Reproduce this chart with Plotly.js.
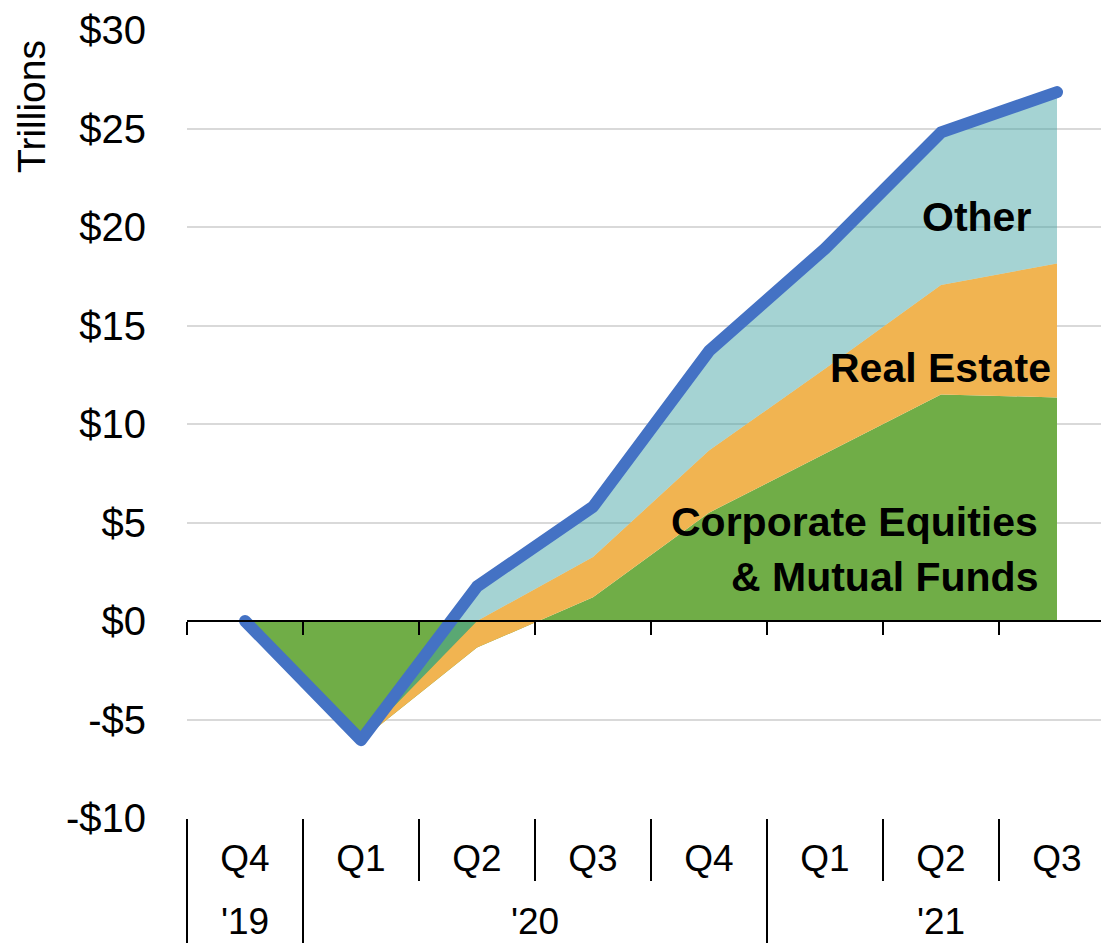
<!DOCTYPE html>
<html>
<head>
<meta charset="utf-8">
<script src="https://cdn.plot.ly/plotly-3.0.1.min.js"></script>
<style>html,body{margin:0;padding:0;background:#fff;}#chart{width:1101px;height:943px;}</style>
</head>
<body>
<div id="chart"></div>
<script>
// ---- data ----
var quarters = ['Q4', 'Q1', 'Q2', 'Q3', 'Q4', 'Q1', 'Q2', 'Q3'];
var years = ["'19", "'20", "'20", "'20", "'20", "'21", "'21", "'21"];
var equities = [0, -6.05, -1.35, 1.2, 5.5, 8.5, 11.5, 11.35];
var realEstate = [0, 0, 1.35, 2.05, 3.15, 4.3, 5.55, 6.8];
var other = [0, 0, 1.75, 2.55, 5.05, 6.1, 7.75, 8.7];
var total = [0, -6.05, 1.75, 5.8, 13.7, 18.9, 24.8, 26.85];
var yTickVals = [-10, -5, 0, 5, 10, 15, 20, 25, 30];
var yTickText = ['-$10', '-$5', '$0', '$5', '$10', '$15', '$20', '$25', '$30'];
var seriesLabels = ['Corporate Equities<br>& Mutual Funds', 'Real Estate', 'Other'];

// ---- derived positions (category indices) ----
var idx = quarters.map(function (q, i) { return i; });
var boundaries = idx.map(function (i) { return i - 0.5; }).concat([quarters.length - 0.5]);
var groups = [];
years.forEach(function (y, i) {
  var g = groups[groups.length - 1];
  if (!g || g.label !== y) groups.push({label: y, start: i, end: i});
  else g.end = i;
});
var groupCenters = groups.map(function (g) { return (g.start + g.end) / 2; });
var groupLabels = groups.map(function (g) { return g.label; });
var groupBounds = groups.map(function (g) { return g.start - 0.5; }).concat([quarters.length - 0.5]);

var FONT = 'Liberation Sans, Arial, sans-serif';

var traces = [
  {x: idx, y: equities, name: 'Corporate Equities & Mutual Funds', type: 'scatter', mode: 'lines',
   stackgroup: 'a', line: {width: 0, color: '#70AD47'}, fillcolor: '#70AD47'},
  {x: idx, y: realEstate, name: 'Real Estate', type: 'scatter', mode: 'lines',
   stackgroup: 'a', line: {width: 0, color: '#F1B451'}, fillcolor: '#F1B451'},
  {x: idx, y: other, name: 'Other', type: 'scatter', mode: 'lines',
   stackgroup: 'a', line: {width: 0, color: 'rgba(66,163,163,0.48)'}, fillcolor: 'rgba(66,163,163,0.48)'},
  {x: idx, y: total, name: 'Total', type: 'scatter', mode: 'lines',
   line: {width: 12, color: '#4472C4'}}
];
// empty helper traces so that the overlaid axes (zero line, separators, year labels) get drawn
['x2', 'x3', 'x4', 'x5'].forEach(function (a) {
  traces.push({x: groupCenters, y: groupCenters.map(function () { return null; }), xaxis: a, yaxis: 'y',
    type: 'scatter', mode: 'lines', hoverinfo: 'skip', showlegend: false, line: {width: 0}});
});

var xr = [-0.5, -0.5 + 914 / 116];
var baseX = {range: xr, autorange: false, showgrid: false, zeroline: false, showline: false};
function ax(extra) { return Object.assign({}, baseX, extra); }

var corpLines = seriesLabels[0].split('<br>');

var layout = {
  width: 1101, height: 943,
  margin: {l: 187, r: 0, t: 30, b: 125},
  paper_bgcolor: '#fff', plot_bgcolor: '#fff',
  showlegend: false,
  font: {family: FONT, size: 40, color: '#000'},
  // quarter labels
  xaxis: ax({tickmode: 'array', tickvals: idx, ticktext: quarters, ticks: '',
    ticklabelstandoff: 15, tickfont: {family: FONT, size: 37, color: '#000'}}),
  // zero line with category ticks
  xaxis2: ax({overlaying: 'x', anchor: 'free', position: 0.25, showticklabels: false,
    showline: true, linecolor: '#000', linewidth: 2,
    tickmode: 'array', tickvals: boundaries, ticks: 'outside', ticklen: 13, tickwidth: 2, tickcolor: '#000',
    layer: 'above traces'}),
  // minor separators under the plot
  xaxis3: ax({overlaying: 'x', anchor: 'y', showticklabels: false,
    tickmode: 'array', tickvals: boundaries, ticks: 'outside', ticklen: 62, tickwidth: 2, tickcolor: '#000'}),
  // major (year) separators
  xaxis4: ax({overlaying: 'x', anchor: 'y', showticklabels: false,
    tickmode: 'array', tickvals: groupBounds, ticks: 'outside', ticklen: 130, tickwidth: 2, tickcolor: '#000'}),
  // year labels
  xaxis5: ax({overlaying: 'x', anchor: 'y', tickmode: 'array', tickvals: groupCenters, ticktext: groupLabels,
    ticks: '', ticklabelstandoff: 78, tickfont: {family: FONT, size: 37, color: '#000'}}),
  yaxis: {
    range: [-10, 30], tickmode: 'array', tickvals: yTickVals, ticktext: yTickText,
    showgrid: true, gridcolor: '#D9D9D9', gridwidth: 2,
    zeroline: false, showline: false, ticks: '',
    ticklabelstandoff: 40,
    tickfont: {family: FONT, size: 40, color: '#000'}
  },
  annotations: [
    {xref: 'paper', yref: 'paper', x: -0.1696, y: 0.9036, xanchor: 'center', yanchor: 'middle',
     text: 'Trillions', textangle: -90, showarrow: false, font: {family: FONT, size: 39, color: '#000'}},
    {xref: 'paper', yref: 'paper', x: 0.9333, y: 0.3756, xanchor: 'right', yanchor: 'middle',
     text: '<b>' + corpLines[0] + '</b>', showarrow: false, font: {family: FONT, size: 41, color: '#000'}},
    {xref: 'paper', yref: 'paper', x: 0.9333, y: 0.3058, xanchor: 'right', yanchor: 'middle',
     text: '<b>' + corpLines[1] + '</b>', showarrow: false, font: {family: FONT, size: 41, color: '#000'}},
    {xref: 'paper', yref: 'paper', x: 0.9475, y: 0.571, xanchor: 'right', yanchor: 'middle',
     text: '<b>' + seriesLabels[1] + '</b>', showarrow: false, font: {family: FONT, size: 41, color: '#000'}},
    {xref: 'paper', yref: 'paper', x: 0.9256, y: 0.7627, xanchor: 'right', yanchor: 'middle',
     text: '<b>' + seriesLabels[2] + '</b>', showarrow: false, font: {family: FONT, size: 41, color: '#000'}}
  ]
};

Plotly.newPlot('chart', traces, layout, {staticPlot: true, displayModeBar: false}).then(function (gd) {
  // rounded joins and caps on the total line, as in the original
  var lines = gd.querySelectorAll('.scatterlayer .trace .js-line');
  lines.forEach(function (p) {
    if (parseFloat(p.style.strokeWidth) >= 10) {
      p.style.strokeLinejoin = 'round';
      p.style.strokeLinecap = 'round';
    }
  });
});
</script>
</body>
</html>
